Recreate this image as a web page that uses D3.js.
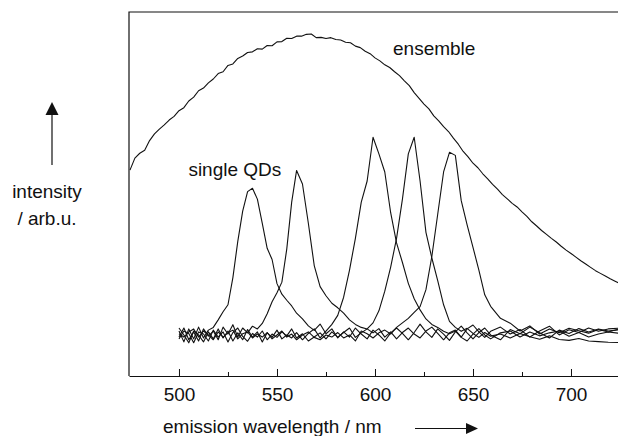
<!DOCTYPE html>
<html lang="en">
  <head>
    <meta charset="UTF-8">
    <title>QD emission spectra</title>
    <script src="https://cdn.jsdelivr.net/npm/d3@7"></script>
    <style>
      html, body {
        margin: 0;
        padding: 0;
        background: #fff;
      }
      svg {
        display: block;
        font-family: 'Liberation Sans', Arial, sans-serif;
      }
      .axis text {
        font-size: 19px;
        fill: #111;
      }
      .axis path, .axis line {
        stroke: #111;
      }
    </style>
  </head>
  <body>
    <svg id="chart" width="618" height="436"></svg>
    <script>
      // ensemble spectrum, 2.5 nm sampling
      const ensembleWavelengths = [
        475, 477.5, 480, 482.5, 485, 487.5, 490, 492.5, 495, 497.5,
        500, 502.5, 505, 507.5, 510, 512.5, 515, 517.5, 520, 522.5,
        525, 527.5, 530, 532.5, 535, 537.5, 540, 542.5, 545, 547.5,
        550, 552.5, 555, 557.5, 560, 562.5, 565, 567.5, 570, 572.5,
        575, 577.5, 580, 582.5, 585, 587.5, 590, 592.5, 595, 597.5,
        600, 602.5, 605, 607.5, 610, 612.5, 615, 617.5, 620, 622.5,
        625, 627.5, 630, 632.5, 635, 637.5, 640, 642.5, 645, 647.5,
        650, 652.5, 655, 657.5, 660, 662.5, 665, 667.5, 670, 672.5,
        675, 677.5, 680, 682.5, 685, 687.5, 690, 692.5, 695, 697.5,
        700, 702.5, 705, 707.5, 710, 712.5, 715, 717.5, 720, 722.5, 725
      ];
      const ensembleIntensity = [
        54.6, 58.6, 60.2, 61.2, 64.4, 66.6, 68.2, 69.6, 71.2, 72.4,
        74.3, 75.3, 77.5, 78.8, 80.9, 81.8, 83.5, 84.8, 86.6, 87.2,
        89.3, 89.8, 91.6, 92.4, 93.6, 93.8, 94.8, 94.7, 95.9, 95.8,
        97.1, 97.2, 98.3, 98.2, 99.0, 99.0, 99.6, 99.7, 98.5, 98.6,
        98.2, 98.5, 97.9, 97.7, 97.0, 96.8, 95.7, 95.2, 94.0, 93.2,
        91.8, 90.8, 89.5, 88.6, 87.2, 85.9, 84.2, 82.6, 80.3, 78.4,
        76.5, 74.9, 72.6, 70.9, 69.0, 67.4, 65.2, 63.2, 60.8, 59.0,
        56.9, 55.4, 53.4, 51.7, 49.9, 48.3, 46.5, 45.1, 43.6, 42.4,
        40.8, 39.3, 37.5, 36.1, 34.6, 33.3, 32.0, 30.8, 29.4, 28.1,
        27.0, 25.8, 24.6, 23.5, 22.4, 21.3, 20.4, 19.5, 18.6, 17.8, 17.0
      ];

      // single dot spectra share one wavelength grid
      const qdWavelengths = [
        500, 502.5, 505, 507.5, 510, 512.5, 515, 517.5, 520, 522.5,
        525, 527.5, 530, 532.5, 535, 537.5, 540, 542.5, 545, 547.5,
        550, 552.5, 555, 557.5, 560,
        563, 566, 569, 572, 575, 578, 581, 584, 587, 590,
        593, 596, 599, 602, 605, 608, 611, 614, 617, 620,
        623, 626, 629, 632, 635, 638, 641, 644, 647, 650,
        653, 656, 659,
        664, 669, 674, 679, 684, 689, 694, 699, 704, 709, 714, 719, 724
      ];
      const qd1 = [
        1.3, -2.3, 2.0, -1.3, 2.6, -1.0, 1.6, 2.5, 5.0, 7.7,
        10.0, 19.0, 31.0, 41.0, 47.5, 48.6, 45.0, 37.0, 28.7, 25.0,
        17.0, 13.5, 11.5, 9.6, 7.2,
        5.3, 3.0, 1.5, 3.6, 0.4, 2.0, -1.0, 1.0, -0.7, 2.3,
        0.3, -1.3, 1.6, 0.0, -2.0, 0.7, 2.3, 0.5, -1.6, 0.8,
        3.6, 1.0, -0.8, 2.0, 0.3, -1.8, 1.0, 2.9, 0.7, -1.3,
        0.8, 2.3, 0.0,
        -1.6, 1.8, 0.4, 2.6, 0.7, -1.0, 1.6, 0.5, 2.1, 1.0, 2.0, 1.3, 1.7
      ];
      const qd2 = [
        -0.7, 2.3, -1.6, 1.0, -2.0, 2.0, -0.4, 1.3, -1.6, 2.6,
        0.3, 3.4, -0.7, 2.3, 0.7, 2.9, 2.0, 3.8, 7.0, 11.0,
        14.0, 17.5, 28.5, 44.0, 54.5,
        50.0, 37.0, 23.0, 16.0, 13.0, 10.5, 9.0, 7.2, 5.0, 3.5,
        2.5, 2.0, 0.7, 2.1, -0.7, 1.0, -1.3, 0.8, 2.3, 0.3,
        -1.0, 1.3, 2.6, 0.5, -1.6, 0.7, 1.6, -0.7, 2.0, 3.3,
        1.0, -0.8, 1.2,
        2.6, 0.3, 1.8, -0.7, 1.3, 2.9, 0.0, 1.7, 0.8, 2.3, 1.2, 2.0, 2.2
      ];
      const qd3 = [
        2.3, 0.0, -2.6, 1.3, 0.0, -2.3, 1.0, -1.3, 2.0, -1.0,
        1.3, -2.0, 0.7, -1.6, 1.8, -0.7, 1.0, -2.3, 0.7, -0.8,
        1.6, -1.3, 0.0, -1.0, 0.8,
        -1.6, 0.5, 2.0, -1.0, 1.3, 3.5, 6.5, 12.5, 21.5, 32.0,
        44.0, 51.0, 65.5, 60.0, 54.0, 40.5, 30.5, 24.0, 17.1, 12.0,
        8.3, 5.3, 3.5, 2.5, 1.2, 0.4, 1.3, -0.8, -2.0, 0.3,
        2.1, 0.0, -1.3,
        0.7, 1.3, -0.7, 1.0, -0.3, 0.7, 1.3, -0.4, 0.8, -0.7, 0.3, 1.0, 0.6
      ];
      const qd4 = [
        -1.3, 1.3, 0.5, -2.6, 1.0, 0.3, -2.0, 1.6, -0.7, 1.0,
        -2.3, 0.8, 2.3, -0.5, -2.1, 0.5, -0.7, 1.3, -1.6, 0.3,
        -0.8, 1.0, -0.3, 2.0, -1.0,
        0.4, -2.0, -0.7, 0.7, -1.3, 1.0, -0.7, 0.8, 2.3, -0.8,
        0.7, 2.0, 4.0, 8.0, 14.5, 22.5, 32.0, 45.0, 60.0, 65.5,
        51.0, 34.0, 25.5, 18.0, 10.0, 4.5, 2.5, 1.2, 2.2, 0.5,
        -0.8, 0.8, -0.4,
        0.3, -1.0, 0.5, -0.6, -1.4, -0.3, -1.5, -1.8, -1.2, -2.0, -2.2, -2.4, -2.5
      ];
      const qd5 = [
        0.4, -0.7, 1.0, 2.0, -0.7, 1.3, 0.0, -1.6, 1.0, -0.7,
        0.7, 1.6, -1.3, 0.4, 1.0, -1.0, 0.3, -0.7, 0.8, -1.3,
        0.0, 1.3, -0.7, 0.3, -1.6,
        0.0, 1.0, -0.8, -1.6, 0.0, -0.7, 0.8, -1.0, 0.0, -2.0,
        1.3, 0.4, -1.0, 0.7, 1.6, 0.3, 2.5, 4.0, 5.5, 7.5,
        9.4, 15.0, 26.0, 40.0, 54.0, 60.5, 59.5, 44.5, 36.5, 29.0,
        21.5, 13.3, 9.5,
        5.5, 3.9, 1.3, 3.0, 0.3, 2.0, 0.7, 2.2, 1.4, 0.6, 1.8, 1.0, 1.9
      ];

      const majorTicks = [500, 550, 600, 650, 700];
      const minorTicks = [525, 575, 625, 675];

      const svg = d3.select('#chart');
      const plot = { left: 129, right: 620, top: 12, bottom: 376 };

      const x = d3.scaleLinear()
        .domain([474.5, 725])
        .range([plot.left, plot.right]);

      const y = d3.scaleLinear()
        .domain([-13.6, 107])
        .range([plot.bottom, plot.top]);

      svg.append('defs')
        .append('clipPath')
        .attr('id', 'plot-clip')
        .append('rect')
        .attr('x', plot.left)
        .attr('y', plot.top)
        .attr('width', plot.right - plot.left)
        .attr('height', plot.bottom - plot.top);

      const line = d3.line()
        .x(d => x(d[0]))
        .y(d => y(d[1]));

      const curves = svg.append('g')
        .attr('clip-path', 'url(#plot-clip)')
        .attr('fill', 'none')
        .attr('stroke', '#111')
        .attr('stroke-width', 1.1)
        .attr('stroke-linejoin', 'round');

      curves.append('path')
        .attr('d', line(ensembleWavelengths.map((w, i) => [w, ensembleIntensity[i]])));

      [qd1, qd2, qd3, qd4, qd5].forEach(series => {
        curves.append('path')
          .attr('d', line(qdWavelengths.map((w, i) => [w, series[i]])));
      });

      // frame: left and top edges
      svg.append('path')
        .attr('d', `M${plot.left},${plot.bottom}V${plot.top}H${plot.right}`)
        .attr('fill', 'none')
        .attr('stroke', '#111')
        .attr('stroke-width', 1.2);

      // bottom axis, ticks pointing into the plot
      svg.append('g')
        .attr('class', 'axis')
        .attr('transform', `translate(0, ${plot.bottom})`)
        .call(d3.axisBottom(x)
          .tickValues(majorTicks)
          .tickFormat(d3.format('d'))
          .tickSizeInner(-7)
          .tickSizeOuter(0)
          .tickPadding(12))
        .call(g => g.select('.domain').attr('stroke-width', 1.2));

      svg.append('g')
        .attr('class', 'axis')
        .attr('transform', `translate(0, ${plot.bottom})`)
        .call(d3.axisBottom(x)
          .tickValues(minorTicks)
          .tickFormat('')
          .tickSizeInner(-4)
          .tickSizeOuter(0))
        .call(g => g.select('.domain').remove());

      // labels inside the plot
      const label = (text, wl, val) => svg.append('text')
        .attr('x', x(wl))
        .attr('y', y(val))
        .attr('font-size', 19)
        .attr('fill', '#111')
        .text(text);

      label('ensemble', 609.2, 92.7);
      label('single QDs', 504.8, 52.6);

      // axis titles with arrows
      svg.append('text')
        .attr('x', 47)
        .attr('y', 198)
        .attr('text-anchor', 'middle')
        .attr('font-size', 19)
        .attr('fill', '#111')
        .text('intensity');

      svg.append('text')
        .attr('x', 47)
        .attr('y', 225)
        .attr('text-anchor', 'middle')
        .attr('font-size', 19)
        .attr('fill', '#111')
        .text('/ arb.u.');

      svg.append('line')
        .attr('x1', 52).attr('y1', 165)
        .attr('x2', 52).attr('y2', 112)
        .attr('stroke', '#111')
        .attr('stroke-width', 1.2);
      svg.append('path')
        .attr('d', 'M52,102L58.5,115L45.5,115Z')
        .attr('fill', '#111');

      svg.append('text')
        .attr('x', 163)
        .attr('y', 433)
        .attr('font-size', 19)
        .attr('fill', '#111')
        .text('emission wavelength / nm');

      svg.append('line')
        .attr('x1', 415).attr('y1', 428.5)
        .attr('x2', 468).attr('y2', 428.5)
        .attr('stroke', '#111')
        .attr('stroke-width', 1.2);
      svg.append('path')
        .attr('d', 'M478,428.5L466,423L466,434Z')
        .attr('fill', '#111');
    </script>
  </body>
</html>
